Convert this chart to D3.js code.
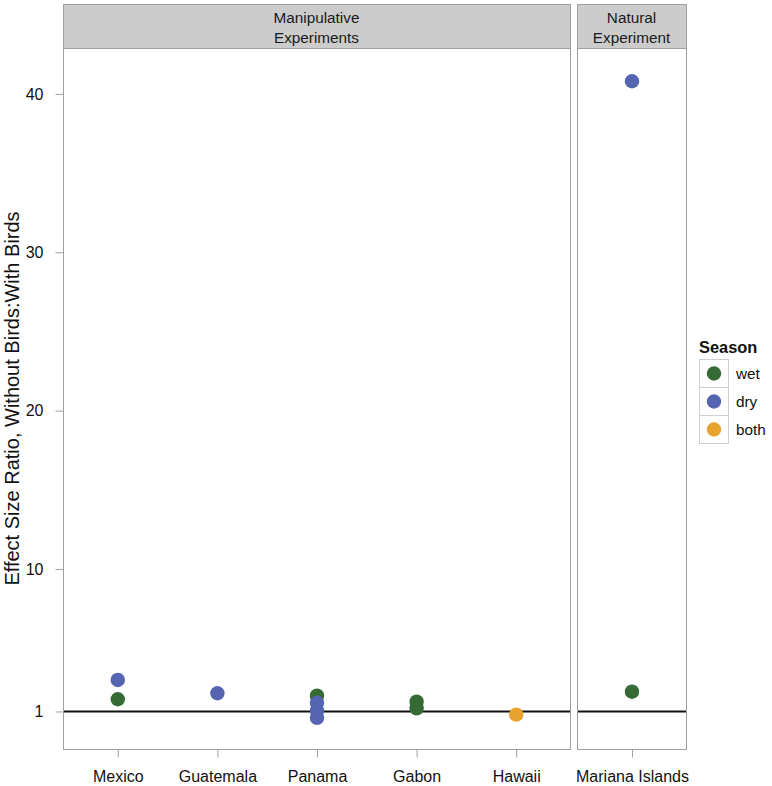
<!DOCTYPE html>
<html><head><meta charset="utf-8">
<script src="https://cdn.jsdelivr.net/npm/d3@7"></script>
<style>body{margin:0;background:#fff}text{font-family:"Liberation Sans",Arial,Helvetica,sans-serif}</style>
</head><body><svg id="c" width="772" height="786"></svg>
<script>
const manipCategories = ["Mexico","Guatemala","Panama","Gabon","Hawaii"];
const naturalCategories = ["Mariana Islands"];
const seasons = ["wet","dry","both"];
const seasonColors = ["#356A35","#5565B1","#E8A22E"];
const yTicks = [1,10,20,30,40];
const pointSite   = ["Mexico","Mexico","Guatemala","Panama","Panama","Panama","Panama","Gabon","Gabon","Hawaii","Mariana Islands","Mariana Islands"];
const pointSeason = ["dry","wet","dry","wet","dry","dry","dry","wet","wet","both","wet","dry"];
const pointValue  = [2.99,1.77,2.15,2.0,1.55,1.05,0.6,1.62,1.2,0.8,2.25,40.8];

(function(){
const svg = d3.select("#c");
const pTop = 48, pBottom = 749;
const y = d3.scaleLinear().domain([-1.37, 42.9]).range([pBottom, pTop]);
const panels = [
  {x0:63, x1:570, cats:manipCategories, label:["Manipulative","Experiments"]},
  {x0:577, x1:686, cats:naturalCategories, label:["Natural","Experiment"]}
];
const color = d3.scaleOrdinal().domain(seasons).range(seasonColors);
const data = pointValue.map((v,i)=>({site:pointSite[i],season:pointSeason[i],value:v}));

panels.forEach(p=>{
  const x = d3.scalePoint().domain(p.cats).range([p.x0,p.x1]).padding(p.cats.length>1?0.545:0.5);
  svg.append("rect").attr("x",p.x0+0.5).attr("y",4.5).attr("width",p.x1-p.x0).attr("height",pTop-4)
    .attr("fill","#cccccc").attr("stroke","#a0a0a0").attr("stroke-width",1);
  p.label.forEach((t,i)=>svg.append("text").attr("x",(p.x0+p.x1)/2).attr("y",22.5+i*20)
    .attr("text-anchor","middle").attr("font-size",15.3).attr("fill","#1a1a1a").text(t));
  svg.append("rect").attr("x",p.x0+0.5).attr("y",pTop+0.5).attr("width",p.x1-p.x0).attr("height",pBottom-pTop)
    .attr("fill","#fff").attr("stroke","#a0a0a0").attr("stroke-width",1);
  const ax = svg.append("g").attr("transform",`translate(0.5,${pBottom+0.5})`)
    .call(d3.axisBottom(x).tickSize(8).tickPadding(13).tickSizeOuter(0));
  ax.select(".domain").remove();
  ax.selectAll(".tick line").attr("stroke","#a0a0a0");
  ax.selectAll(".tick text").attr("font-size",16).attr("fill","#111").attr("font-family","Liberation Sans, Arial, sans-serif");
  svg.append("line").attr("x1",p.x0+1).attr("x2",p.x1).attr("y1",y(1)).attr("y2",y(1))
    .attr("stroke","#111").attr("stroke-width",2);
  svg.append("g").selectAll("circle").data(data.filter(d=>p.cats.includes(d.site))).join("circle")
    .attr("cx",d=>x(d.site)+0.5).attr("cy",d=>y(d.value)).attr("r",7.2)
    .attr("fill",d=>color(d.season));
});

const ay = svg.append("g").attr("transform","translate(63.5,0)")
  .call(d3.axisLeft(y).tickValues(yTicks).tickSize(8).tickPadding(12).tickSizeOuter(0));
ay.select(".domain").remove();
ay.selectAll(".tick line").attr("stroke","#a0a0a0");
ay.selectAll(".tick text").attr("font-size",16).attr("fill","#111").attr("font-family","Liberation Sans, Arial, sans-serif");

svg.append("text").attr("transform",`translate(19,${(pTop+pBottom)/2}) rotate(-90)`)
  .attr("text-anchor","middle").attr("font-size",20).attr("fill","#111")
  .text("Effect Size Ratio, Without Birds:With Birds");

const lg = svg.append("g");
lg.append("text").attr("x",699).attr("y",353).attr("font-size",16.4).attr("font-weight","bold").attr("fill","#111").text("Season");
seasons.forEach((s,i)=>{
  const yy = 359 + i*28;
  lg.append("rect").attr("x",699.5).attr("y",yy+0.5).attr("width",29).attr("height",28)
    .attr("fill","#fff").attr("stroke","#d0d0d0");
  lg.append("circle").attr("cx",714).attr("cy",yy+14.5).attr("r",7.2).attr("fill",color(s));
  lg.append("text").attr("x",736).attr("y",yy+20).attr("font-size",15.3).attr("fill","#111").text(s);
});
})();
</script></body></html>
